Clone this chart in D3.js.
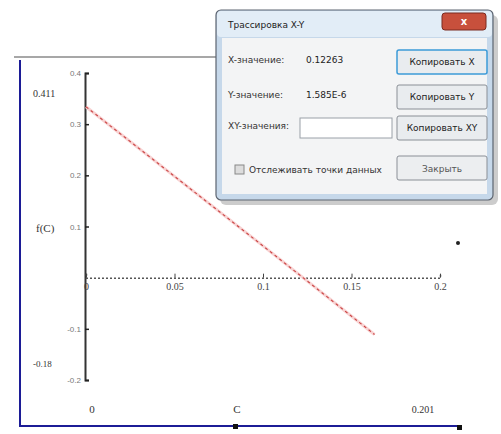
<!DOCTYPE html>
<html>
<head>
<meta charset="utf-8">
<script src="https://cdn.jsdelivr.net/npm/d3@7"></script>
<style>
  body { margin: 0; background: #fff; }
  svg { display: block; }
</style>
</head>
<body>
<div id="chart"></div>
<script>
// values
const cValues = [0, 0.05, 0.1, 0.1226, 0.163];
const fValues = [0.334, 0.198, 0.062, 0, -0.111];
const xTicks = [0, 0.05, 0.1, 0.15, 0.2];
const xTickLabels = ["0", "0.05", "0.1", "0.15", "0.2"];
const yTicks = [0.4, 0.3, 0.2, 0.1, -0.1, -0.2];
const yTickLabels = ["0.4", "0.3", "0.2", "0.1", "-0.1", "-0.2"];
const traceX = "0.12263";
const traceY = "1.585E-6";

const width = 501, height = 434;

const svg = d3.select("#chart").append("svg")
    .attr("width", width)
    .attr("height", height);

svg.append("rect").attr("width", width).attr("height", height).attr("fill", "#fff");

const x = d3.scaleLinear().domain([0, 0.2]).range([86, 440]);
const y = d3.scaleLinear().domain([-0.2, 0.4]).range([380, 73]);

// region frame
svg.append("line").attr("x1", 14).attr("x2", 230).attr("y1", 57).attr("y2", 57)
    .attr("stroke", "#8a8a8a").attr("stroke-width", 1.5);
svg.append("path")
    .attr("d", "M20,60 V426 H460")
    .attr("fill", "none").attr("stroke", "#1c1c96").attr("stroke-width", 2);
svg.append("rect").attr("x", 233).attr("y", 424).attr("width", 5).attr("height", 5).attr("fill", "#111");
svg.append("rect").attr("x", 457).attr("y", 425).attr("width", 5).attr("height", 5).attr("fill", "#111");
svg.append("circle").attr("cx", 458).attr("cy", 243).attr("r", 2).attr("fill", "#222");

// y axis
const yAxis = svg.append("g")
    .attr("transform", "translate(85,0)")
    .call(d3.axisRight(y).tickValues(yTicks).tickSize(4)
        .tickFormat((d, i) => yTickLabels[i]));
yAxis.select(".domain").attr("stroke", "#333").attr("stroke-width", 2);
yAxis.selectAll(".tick line").attr("stroke", "#222").attr("stroke-width", 1.5);
yAxis.selectAll(".tick text")
    .attr("x", -4).attr("text-anchor", "end")
    .style("font", "8px 'Liberation Sans', sans-serif").attr("fill", "#777");

// x axis at f = 0
const xAxis = svg.append("g")
    .attr("transform", `translate(0,${y(0)})`)
    .call(d3.axisBottom(x).tickValues(xTicks).tickSize(-4)
        .tickFormat((d, i) => xTickLabels[i]));
xAxis.select(".domain").attr("stroke", "#555").attr("stroke-width", 1.5)
    .attr("stroke-dasharray", "2,2");
xAxis.selectAll(".tick line").attr("stroke", "#444");
xAxis.selectAll(".tick text")
    .attr("y", 5)
    .style("font", "10px 'Liberation Serif', serif").attr("fill", "#444");

// trace line
const line = d3.line().x((d, i) => x(cValues[i])).y(d => y(d));
svg.append("path").datum(fValues)
    .attr("d", line)
    .attr("fill", "none").attr("stroke", "#f8d2d2").attr("stroke-width", 3);
svg.append("path").datum(fValues)
    .attr("d", line)
    .attr("fill", "none").attr("stroke", "#c84040").attr("stroke-width", 1.1)
    .attr("stroke-dasharray", "3,3");

// limit and variable labels
const lab = (tx, ty, t, size, anchor) => svg.append("text")
    .attr("x", tx).attr("y", ty).text(t)
    .attr("text-anchor", anchor || "start")
    .style("font", `${size}px 'Liberation Serif', serif`).attr("fill", "#333");
lab(33, 97, "0.411", 10);
lab(36, 232, "f(C)", 11);
lab(33, 367, "-0.18", 9);
lab(92, 413, "0", 11, "middle");
lab(237, 413, "C", 11, "middle");
lab(423, 413, "0.201", 10, "middle");

// X-Y trace dialog
const dlg = svg.append("g").attr("transform", "translate(216,10)");
const font = "9px 'DejaVu Sans', sans-serif";
dlg.append("rect").attr("x", 4).attr("y", 5).attr("width", 278).attr("height", 190)
    .attr("rx", 6).attr("fill", "#9a9a9a").attr("opacity", 0.5);
dlg.append("rect").attr("width", 277).attr("height", 190).attr("rx", 5)
    .attr("fill", "#c6d8ea").attr("stroke", "#5c6470").attr("stroke-width", 1.2);
dlg.append("rect").attr("x", 1).attr("y", 1).attr("width", 275).attr("height", 26).attr("rx", 4)
    .attr("fill", "#e2edf7");
dlg.append("text").attr("x", 12).attr("y", 18).text("Трассировка X-Y")
    .style("font", font).attr("fill", "#222");
dlg.append("rect").attr("x", 226).attr("y", 3).attr("width", 44).attr("height", 17).attr("rx", 3)
    .attr("fill", "#c8503c").attr("stroke", "#7a2a20");
dlg.append("text").attr("x", 248).attr("y", 15).attr("text-anchor", "middle").text("x")
    .style("font", "bold 10px 'DejaVu Sans', sans-serif").attr("fill", "#fff");
dlg.append("rect").attr("x", 6).attr("y", 28).attr("width", 265).attr("height", 156)
    .attr("fill", "#f3f4f5");

const rows = [
  {label: "X-значение:", value: traceX, btn: "Копировать X", y: 40},
  {label: "Y-значение:", value: traceY, btn: "Копировать Y", y: 75},
  {label: "XY-значения:", value: "", btn: "Копировать XY", y: 106}
];
rows.forEach((r, i) => {
  dlg.append("text").attr("x", 12).attr("y", r.y + 13).text(r.label)
      .style("font", font).attr("fill", "#333");
  if (i === 2) {
    dlg.append("rect").attr("x", 84).attr("y", r.y + 2).attr("width", 92).attr("height", 20)
        .attr("fill", "#fff").attr("stroke", "#9aa0a8");
  }
  dlg.append("text").attr("x", 90).attr("y", r.y + 13).text(r.value)
      .style("font", font).attr("fill", "#222");
  dlg.append("rect").attr("x", 181).attr("y", r.y).attr("width", 90).attr("height", 24).attr("rx", 2)
      .attr("fill", "#e9ecef").attr("stroke", i === 0 ? "#3c9ad8" : "#8a8f96")
      .attr("stroke-width", i === 0 ? 1.5 : 1);
  dlg.append("text").attr("x", 226).attr("y", r.y + 15).attr("text-anchor", "middle").text(r.btn)
      .style("font", font).attr("fill", "#222");
});
dlg.append("rect").attr("x", 19).attr("y", 155).attr("width", 9).attr("height", 9)
    .attr("fill", "#ddd").attr("stroke", "#888");
dlg.append("text").attr("x", 33).attr("y", 163).text("Отслеживать точки данных")
    .style("font", font).attr("fill", "#333");
dlg.append("rect").attr("x", 181).attr("y", 146).attr("width", 90).attr("height", 24).attr("rx", 2)
    .attr("fill", "#eceef0").attr("stroke", "#8a8f96");
dlg.append("text").attr("x", 226).attr("y", 162).attr("text-anchor", "middle").text("Закрыть")
    .style("font", font).attr("fill", "#555");
</script>
</body>
</html>
